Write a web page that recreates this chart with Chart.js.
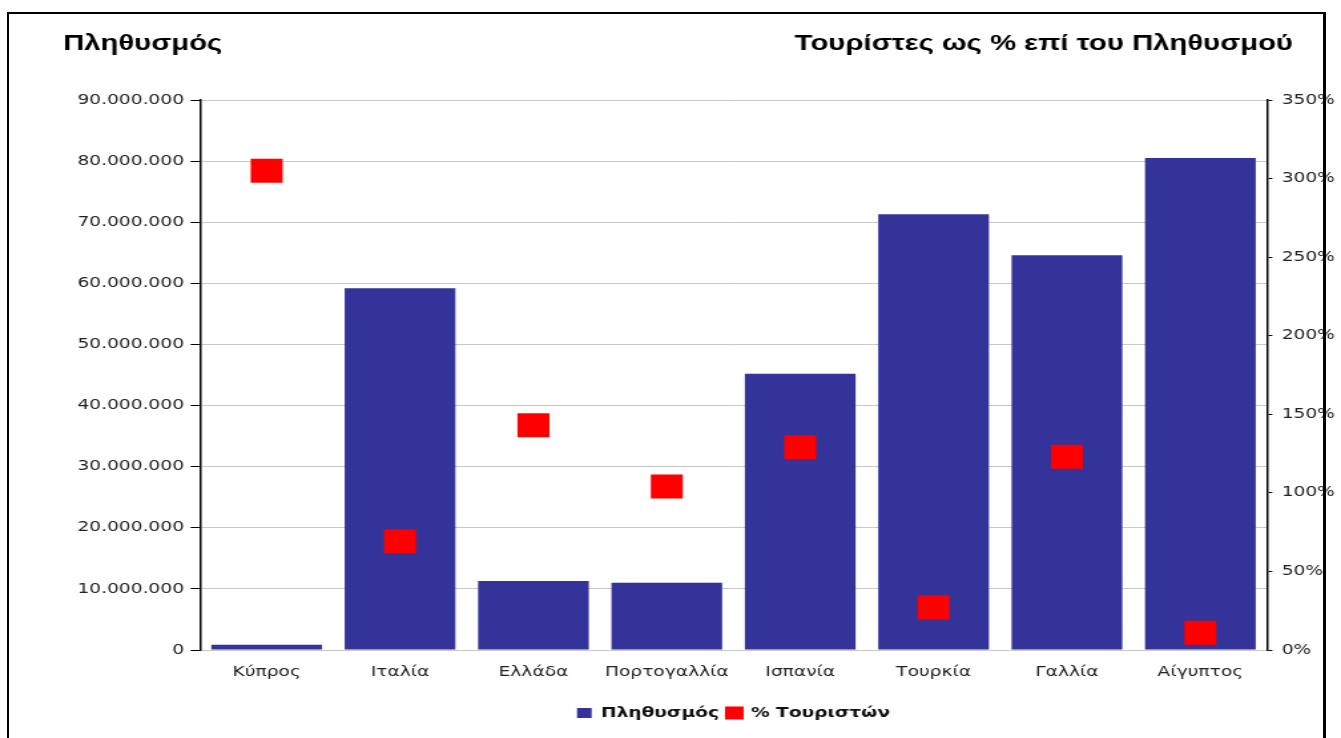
<!DOCTYPE html>
<html>
<head>
<meta charset="utf-8">
<script src="https://cdn.jsdelivr.net/npm/chart.js@4.4.0/dist/chart.umd.min.js"></script>
<style>
  html, body { margin: 0; padding: 0; background: #ffffff; overflow: hidden; }
  body { width: 1341px; height: 738px; position: relative; }
  #wrap { position: absolute; left: 0; top: 0; width: 1008px; height: 738px;
          transform: scaleX(1.330357); transform-origin: 0 0; }
  #frame { position: absolute; left: 7px; top: 12px; width: 1319px; height: 800px;
           box-sizing: border-box; border: 2px solid #000; border-right-width: 3px;
           pointer-events: none; z-index: 5; }
</style>
</head>
<body>
<div id="wrap"><canvas id="c" width="1008" height="738"></canvas></div>
<div id="frame"></div>
<script>
const categories = ['Κύπρος', 'Ιταλία', 'Ελλάδα', 'Πορτογαλλία', 'Ισπανία', 'Τουρκία', 'Γαλλία', 'Αίγυπτος'];
const population = [850000, 59200000, 11300000, 11000000, 45200000, 71300000, 64600000, 80500000];
const touristPct = [305, 69, 143, 104, 129, 27, 123, 11];
const seriesNames = ['Πληθυσμός', '% Τουριστών'];
const leftTitle = 'Πληθυσμός';
const rightTitle = 'Τουρίστες ως % επί του Πληθυσμού';

function fmtThousands(v) {
  return String(Math.round(v)).replace(/\B(?=(\d{3})+(?!\d))/g, '.');
}

const titlePlugin = {
  id: 'titles',
  afterDraw(chart) {
    const ctx = chart.ctx;
    ctx.save();
    ctx.fillStyle = '#000';
    ctx.font = 'bold 22px "Liberation Sans", Arial, sans-serif';
    ctx.textBaseline = 'alphabetic';
    ctx.textAlign = 'left';
    ctx.fillText(leftTitle, 47.4, 50);
    ctx.textAlign = 'right';
    ctx.fillText(rightTitle, 971.9, 50);
    ctx.restore();
  }
};

const tickFont = { family: '"DejaVu Sans", Verdana, sans-serif', size: 14 };

new Chart(document.getElementById('c'), {
  type: 'bar',
  data: {
    labels: categories,
    datasets: [
      {
        label: seriesNames[0],
        data: population,
        backgroundColor: '#333399',
        borderWidth: 0,
        barPercentage: 0.83,
        categoryPercentage: 1.0,
        yAxisID: 'y',
        order: 2
      },
      {
        type: 'line',
        label: seriesNames[1],
        data: touristPct,
        showLine: false,
        pointStyle: 'rect',
        pointRadius: 17,
        pointBorderWidth: 0,
        pointBackgroundColor: '#ff0000',
        backgroundColor: '#ff0000',
        borderColor: '#ff0000',
        yAxisID: 'y1',
        order: 1
      }
    ]
  },
  options: {
    responsive: false,
    animation: false,
    events: [],
    layout: { padding: { top: 100, bottom: 8, left: 0, right: 0 } },
    plugins: {
      tooltip: { enabled: false },
      legend: {
        position: 'bottom',
        fullSize: false,
        labels: {
          sort: (a, b) => a.datasetIndex - b.datasetIndex,
          boxWidth: 11,
          boxHeight: 10,
          padding: 6,
          color: '#111',
          font: { family: '"DejaVu Sans", Verdana, sans-serif', size: 14, weight: 'bold' }
        }
      }
    },
    scales: {
      x: {
        grid: { display: false, drawTicks: false },
        border: { display: false },
        ticks: { color: '#222', font: tickFont, padding: 14, maxRotation: 0 },
        afterFit(s) { s.height = 50; }
      },
      y: {
        position: 'left',
        min: 0, max: 90000000,
        ticks: { stepSize: 10000000, color: '#222', font: tickFont, padding: 5,
                 callback: v => fmtThousands(v) },
        grid: { color: '#c8c8c8', lineWidth: 1, tickColor: '#000', tickLength: 7, tickWidth: 1 },
        border: { display: true, color: '#000', width: 1.5 },
        afterFit(s) { s.width = 150.3; }
      },
      y1: {
        position: 'right',
        min: 0, max: 350,
        ticks: { stepSize: 50, color: '#222', font: tickFont, padding: 7,
                 callback: v => v + '%' },
        grid: { drawOnChartArea: false, tickColor: '#000', tickLength: 4, tickWidth: 1 },
        border: { display: true, color: '#000', width: 1.5 },
        afterFit(s) { s.width = 55.6; }
      }
    }
  },
  plugins: [titlePlugin]
});
</script>
</body>
</html>
